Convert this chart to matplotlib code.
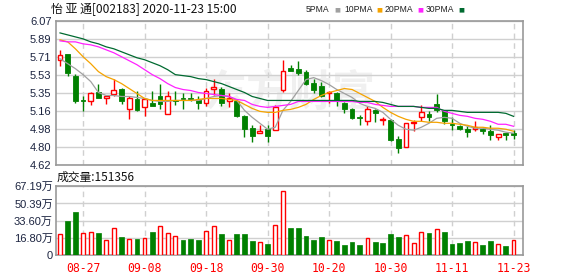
import matplotlib
matplotlib.use("Agg")
import matplotlib.pyplot as plt
import numpy as np

plt.rcParams['font.family'] = ['Liberation Sans', 'Noto Sans CJK SC', 'DejaVu Sans']

# datos diarios (precio en yuanes, volumen en 万)
opens = [5.68, 5.74, 5.52, 5.27, 5.26, 5.36, 5.29, 5.33, 5.39, 5.18,
         5.28, 5.20, 5.24, 5.31, 5.13, 5.27, 5.29, 5.29, 5.28, 5.24,
         5.39, 5.39, 5.26, 5.26, 5.11, 4.99, 4.94, 4.98, 4.97, 5.38,
         5.60, 5.59, 5.56, 5.45, 5.42, 5.34, 5.35, 5.24, 5.18, 5.10,
         5.06, 5.17, 5.07, 5.07, 4.88, 4.80, 5.04, 5.10, 5.13, 5.23,
         5.16, 5.03, 5.01, 4.98, 4.98, 4.98, 4.96, 4.90, 4.94, 4.94]
highs = [5.78, 5.74, 5.54, 5.31, 5.36, 5.44, 5.32, 5.49, 5.40, 5.31,
         5.37, 5.29, 5.37, 5.44, 5.37, 5.37, 5.34, 5.34, 5.31, 5.40,
         5.49, 5.41, 5.34, 5.27, 5.12, 5.02, 5.02, 5.02, 5.22, 5.68,
         5.63, 5.67, 5.58, 5.49, 5.46, 5.37, 5.36, 5.25, 5.19, 5.12,
         5.21, 5.18, 5.10, 5.08, 4.91, 5.04, 5.07, 5.22, 5.16, 5.33,
         5.17, 5.10, 5.02, 5.01, 5.06, 5.00, 5.02, 4.93, 4.94, 4.97]
lows = [5.62, 5.52, 5.24, 5.16, 5.22, 5.29, 5.23, 5.31, 5.23, 5.08,
        5.16, 5.11, 5.21, 5.18, 5.13, 5.22, 5.18, 5.26, 5.18, 5.21,
        5.32, 5.21, 5.20, 5.10, 4.90, 4.85, 4.94, 4.85, 4.97, 5.36,
        5.57, 5.53, 5.43, 5.35, 5.30, 5.24, 5.21, 5.14, 5.08, 5.02,
        5.02, 5.05, 5.02, 4.86, 4.74, 4.80, 4.96, 5.06, 5.06, 5.15,
        5.03, 4.97, 4.97, 4.90, 4.96, 4.93, 4.87, 4.87, 4.87, 4.88]
closes = [5.73, 5.55, 5.26, 5.26, 5.35, 5.29, 5.31, 5.38, 5.26, 5.29,
          5.17, 5.28, 5.21, 5.23, 5.31, 5.26, 5.28, 5.28, 5.24, 5.37,
          5.41, 5.24, 5.29, 5.11, 4.98, 4.91, 4.96, 4.91, 5.20, 5.57,
          5.57, 5.55, 5.44, 5.38, 5.31, 5.36, 5.26, 5.18, 5.09, 5.09,
          5.18, 5.14, 5.08, 4.87, 4.79, 5.04, 5.05, 5.15, 5.10, 5.17,
          5.06, 5.02, 4.98, 4.95, 5.00, 4.96, 4.92, 4.93, 4.92, 4.92]

ma5 = [5.69, 5.64, 5.59, 5.53, 5.46, 5.35, 5.32, 5.32, 5.31, 5.31,
       5.30, 5.29, 5.27, 5.26, 5.26, 5.27, 5.27, 5.27, 5.27, 5.29,
       5.31, 5.32, 5.31, 5.27, 5.17, 5.10, 5.04, 4.98, 5.00, 5.17,
       5.26, 5.37, 5.48, 5.50, 5.47, 5.43, 5.38, 5.34, 5.30, 5.24,
       5.21, 5.19, 5.15, 5.08, 5.02, 4.98, 4.97, 5.00, 5.04, 5.09,
       5.10, 5.09, 5.04, 5.01, 4.99, 4.99, 4.98, 4.97, 4.95, 4.94]
ma10 = [5.88, 5.86, 5.79, 5.71, 5.64, 5.56, 5.51, 5.48, 5.44, 5.39,
        5.34, 5.29, 5.27, 5.27, 5.27, 5.27, 5.27, 5.27, 5.28, 5.29,
        5.29, 5.29, 5.28, 5.27, 5.23, 5.19, 5.16, 5.15, 5.15, 5.17,
        5.18, 5.20, 5.23, 5.28, 5.32, 5.35, 5.37, 5.39, 5.38, 5.34,
        5.30, 5.26, 5.20, 5.15, 5.11, 5.08, 5.06, 5.06, 5.05, 5.05,
        5.04, 5.04, 5.03, 5.02, 5.00, 5.00, 4.99, 4.99, 4.98, 4.96]
ma20 = [5.87, 5.86, 5.86, 5.84, 5.83, 5.81, 5.78, 5.75, 5.71, 5.67,
        5.63, 5.58, 5.53, 5.49, 5.44, 5.40, 5.38, 5.37, 5.35, 5.34,
        5.33, 5.32, 5.31, 5.28, 5.27, 5.23, 5.21, 5.20, 5.21, 5.22,
        5.23, 5.26, 5.26, 5.26, 5.26, 5.26, 5.26, 5.26, 5.26, 5.25,
        5.25, 5.23, 5.22, 5.21, 5.21, 5.21, 5.21, 5.20, 5.20, 5.20,
        5.16, 5.14, 5.12, 5.11, 5.09, 5.08, 5.06, 5.03, 5.03, 5.01]
ma30 = [5.95, 5.93, 5.91, 5.89, 5.86, 5.84, 5.81, 5.79, 5.76, 5.73,
        5.70, 5.68, 5.65, 5.62, 5.58, 5.53, 5.52, 5.51, 5.49, 5.48,
        5.46, 5.44, 5.41, 5.38, 5.35, 5.31, 5.29, 5.27, 5.27, 5.27,
        5.27, 5.27, 5.27, 5.27, 5.27, 5.27, 5.27, 5.27, 5.27, 5.26,
        5.26, 5.26, 5.25, 5.23, 5.21, 5.21, 5.21, 5.20, 5.19, 5.19,
        5.17, 5.17, 5.16, 5.15, 5.15, 5.15, 5.15, 5.15, 5.14, 5.11]

volumen = [20.2, 33.3, 42.1, 21.5, 22.5, 21.5, 14.7, 26.1, 17.6, 15.3,
           15.7, 16.6, 22.5, 28.1, 21.2, 18.3, 14.7, 15.7, 14.7, 23.2,
           28.1, 20.6, 14.7, 20.6, 20.6, 13.7, 12.4, 10.8, 29.0, 62.3,
           26.4, 26.4, 18.6, 14.7, 17.6, 14.7, 13.7, 9.8, 12.7, 9.8,
           16.3, 12.7, 11.7, 20.6, 17.6, 19.2, 11.4, 22.2, 21.5, 25.1,
           22.5, 10.8, 11.7, 13.7, 12.4, 9.8, 13.7, 10.4, 8.8, 15.14]
vol_sube = [1, 0, 0, 1, 1, 0, 1, 1, 0, 1, 0, 1, 0, 1, 1, 1, 0, 0, 0, 1,
            1, 0, 1, 0, 0, 0, 1, 0, 1, 1, 0, 0, 0, 0, 0, 1, 0, 0, 0, 0,
            1, 0, 0, 0, 0, 1, 1, 1, 0, 1, 0, 0, 0, 0, 1, 0, 0, 1, 0, 1]

fechas_idx = [3, 11, 19, 27, 35, 43, 51, 59]
fechas = ["08-27", "09-08", "09-18", "09-30", "10-20", "10-30", "11-11", "11-23"]

precio_ticks = ["4.62", "4.80", "4.98", "5.16", "5.35", "5.53", "5.71", "5.89", "6.07"]
vol_ticks = ["0", "16.80万", "33.60万", "50.39万", "67.19万"]

ROJO = "#ff0000"
VERDE = "#008000"
GRIS_EJE = "#999999"
GRIS_REJ = "#d0d0d0"
TXT = "#1c2440"

fig = plt.figure(figsize=(5.78, 2.76), dpi=100)
fig.patch.set_facecolor("white")

x = np.arange(len(closes))
xlim = (-0.56, 60.2)

# --- panel de precios ---
ax = fig.add_axes([0.0964, 0.4022, 0.808, 0.5217])
ax.set_xlim(*xlim)
ax.set_ylim(4.62, 6.07)
yt = np.linspace(4.62, 6.07, 9)
ax.set_yticks(yt)
ax.set_yticklabels(precio_ticks)
ax.set_xticks(fechas_idx)
ax.set_xticklabels([])
ax.tick_params(length=0, labelsize=8, colors=TXT, pad=3)
ax.grid(axis="y", color=GRIS_REJ, lw=1, ls="-")
ax.grid(axis="x", color=GRIS_REJ, lw=1, ls=(0, (4, 3)))
ax.set_axisbelow(True)
for s in ax.spines.values():
    s.set_color(GRIS_EJE)
    s.set_linewidth(1.2)

ax.text(0.50, 0.50, "东方财富", transform=ax.transAxes, ha="center", va="center",
        fontsize=31, color="#f0f0f0", family=["Noto Sans CJK SC"], fontweight="bold", zorder=0)

o = np.array(opens); c = np.array(closes); h = np.array(highs); l = np.array(lows)
sube = c >= o
cuerpo_top = np.maximum(o, c)
cuerpo_bot = np.minimum(o, c)
col = np.where(sube, ROJO, VERDE)

# mechas
ax.vlines(x, cuerpo_top, h, colors=col, lw=1, zorder=3)
ax.vlines(x, l, cuerpo_bot, colors=col, lw=1, zorder=3)
# cuerpos
alto = np.maximum(cuerpo_top - cuerpo_bot, 0.006)
ax.bar(x[sube], alto[sube], bottom=cuerpo_bot[sube], width=0.62,
       facecolor="white", edgecolor=ROJO, lw=1, zorder=4)
ax.bar(x[~sube], alto[~sube], bottom=cuerpo_bot[~sube], width=0.62,
       facecolor=VERDE, edgecolor=VERDE, lw=0.6, zorder=4)

ax.plot(x, ma5, color="#a0a0a0", lw=0.9, zorder=5)
ax.plot(x, ma10, color="#f5a300", lw=0.9, zorder=5)
ax.plot(x, ma20, color="#ff22ff", lw=0.9, zorder=5)
ax.plot(x, ma30, color="#006a30", lw=0.9, zorder=5)

# --- panel de volumen ---
av = fig.add_axes([0.0964, 0.0761, 0.808, 0.2489])
av.set_xlim(*xlim)
av.set_ylim(0, 67.19)
av.set_yticks(np.linspace(0, 67.19, 5))
av.set_yticklabels(vol_ticks)
av.set_xticks(fechas_idx)
av.set_xticklabels(fechas, family=["DejaVu Sans Mono"], fontsize=8.3, color=ROJO)
av.tick_params(axis="y", length=0, labelsize=8, colors=TXT, pad=2)
av.tick_params(axis="x", length=0, pad=5)
for t in av.get_yticklabels():
    t.set_color(TXT)
av.grid(axis="y", color=GRIS_REJ, lw=1, ls="-")
av.grid(axis="x", color=GRIS_REJ, lw=1, ls=(0, (4, 3)))
av.set_axisbelow(True)
for s in av.spines.values():
    s.set_color(GRIS_EJE)
    s.set_linewidth(1.2)

vs = np.array(vol_sube, dtype=bool)
vol = np.array(volumen)
av.bar(x[vs], vol[vs], width=0.5, facecolor="white", edgecolor=ROJO, lw=1, zorder=3)
av.bar(x[~vs], vol[~vs], width=0.62, facecolor=VERDE, edgecolor=VERDE, lw=0.5, zorder=3)

# --- textos ---
fig.text(51 / 578, 1 - 10 / 276, "怡 亚 通[002183] 2020-11-23 15:00", fontsize=8.6,
         family=["Noto Sans CJK SC", "DejaVu Sans"], va="center", ha="left", color="#111111")
leyenda = [("5PMA", "#a0a0a0", 306, 334), ("10PMA", "#f5a300", 344, 376),
           ("20PMA", "#ff22ff", 385, 417), ("30PMA", "#006a30", 426, 458)]
for nombre, cc, px, pc in leyenda:
    fig.text(px / 578, 1 - 10 / 276, nombre, fontsize=6.2, family=["Liberation Sans"],
             va="center", ha="left", color="#222222")
    fig.text(pc / 578, 1 - 10 / 276, "■", fontsize=4.5,
             family=["DejaVu Sans"], va="center", ha="left", color=cc)
fig.text(57 / 578, 1 - 177 / 276, "成交量:151356", fontsize=8.5,
         family=["Noto Sans CJK SC", "DejaVu Sans"], va="center", ha="left", color="#111111")

plt.savefig("out.png", dpi=100)
